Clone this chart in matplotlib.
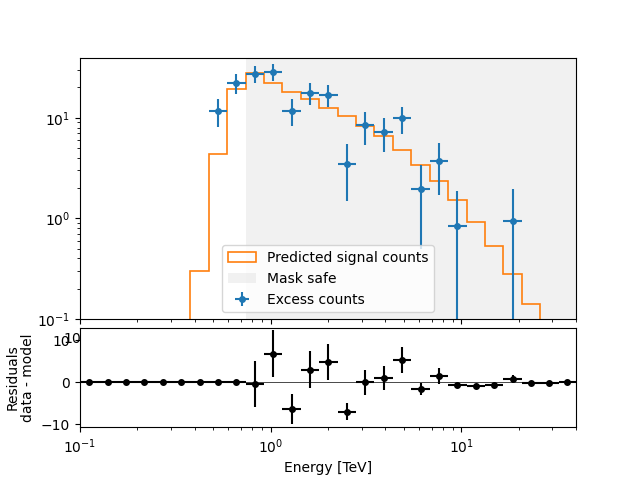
import numpy as np
import matplotlib
matplotlib.use("Agg")
import matplotlib.pyplot as plt
from matplotlib.gridspec import GridSpec

# Energy bin edges [TeV] (27 log bins between 0.1 and 40 TeV)
energy_edges = np.array([
    0.1, 0.1249, 0.1560, 0.1948, 0.2433, 0.3039, 0.3796, 0.4741, 0.5921,
    0.7395, 0.9237, 1.1537, 1.4410, 1.7998, 2.2479, 2.8077, 3.5068, 4.3800,
    5.4706, 6.8328, 8.5342, 10.659, 13.313, 16.628, 20.769, 25.940, 32.399, 40.0])

# Predicted signal counts per bin
npred_sig = np.array([0.0, 0.0, 0.0, 0.0, 0.0, 0.0, 0.30, 4.4, 19.4, 27.9,
                      22.3, 18.1, 15.3, 12.6, 10.5, 8.33, 6.53, 4.78, 3.43,
                      2.34, 1.52, 0.93, 0.526, 0.281, 0.140, 0.06, 0.02])

# Excess counts (only bins with positive excess shown)
excess_bins = np.array([7, 8, 9, 10, 11, 12, 13, 14, 15, 16, 17, 18, 19, 20, 23])
excess_vals = np.array([11.8, 22.4, 27.5, 28.6, 11.8, 17.7, 17.0, 3.5, 8.39,
                        7.26, 9.84, 1.95, 3.68, 0.833, 0.94])
excess_err = np.array([3.7, 5.0, 5.4, 5.5, 3.6, 4.3, 4.2, 2.0, 3.0,
                       2.7, 3.0, 1.45, 1.97, 1.02, 1.0])

# Residuals (data - model)
resid_vals = np.array([0, 0, 0, 0, 0, 0, 0, 0, 0, -0.5, 6.8, -6.36, 2.93,
                       4.76, -7.0, 0.0, 0.95, 5.2, -1.6, 1.5, -0.64, -0.95,
                       -0.57, 0.71, -0.24, -0.14, 0.0])
resid_err = np.array([0, 0, 0, 0, 0, 0, 0, 0, 0, 5.5, 5.6, 3.6, 4.4,
                      4.3, 2.0, 3.0, 2.8, 3.1, 1.4, 2.0, 0.5, 0.0,
                      0.0, 1.0, 0.0, 0.0, 0.0])

mask_safe_min = energy_edges[9]
mask_safe_max = energy_edges[-1]

centers = np.sqrt(energy_edges[:-1] * energy_edges[1:])
xerr_lo = centers - energy_edges[:-1]
xerr_hi = energy_edges[1:] - centers

fig = plt.figure(figsize=(6.4, 4.8), dpi=100)
gs = GridSpec(7, 1)
ax = fig.add_subplot(gs[:5, :])
ax_res = fig.add_subplot(gs[5:, :], sharex=ax)

ax.hist(centers, bins=energy_edges, weights=npred_sig, histtype="step",
        color="C1", lw=1.2, label="Predicted signal counts")
ax.axvspan(mask_safe_min, mask_safe_max, color="lightgray", alpha=0.3,
           label="Mask safe", lw=0)
ax.errorbar(centers[excess_bins], excess_vals,
            xerr=[xerr_lo[excess_bins], xerr_hi[excess_bins]],
            yerr=excess_err, fmt="o", color="C0", markersize=4,
            label="Excess counts")
ax.set_xscale("log")
ax.set_yscale("log")
ax.set_ylim(0.1, 39.6)
ax.set_xlim(energy_edges[0], energy_edges[-1])
ax.legend(loc="lower center")

ax_res.axhline(0, color="black", lw=0.5)
ax_res.errorbar(centers, resid_vals, xerr=[xerr_lo, xerr_hi], yerr=resid_err,
                fmt="o", color="black", markersize=4)
ax_res.set_xscale("log")
ax_res.set_xlim(energy_edges[0], energy_edges[-1])
ax_res.set_ylim(-10.7, 12.9)
ax_res.set_xlabel("Energy [TeV]")
ax_res.set_ylabel("Residuals\ndata - model")
ax.tick_params(labelbottom=True)

fig.savefig("out.png", dpi=100)
